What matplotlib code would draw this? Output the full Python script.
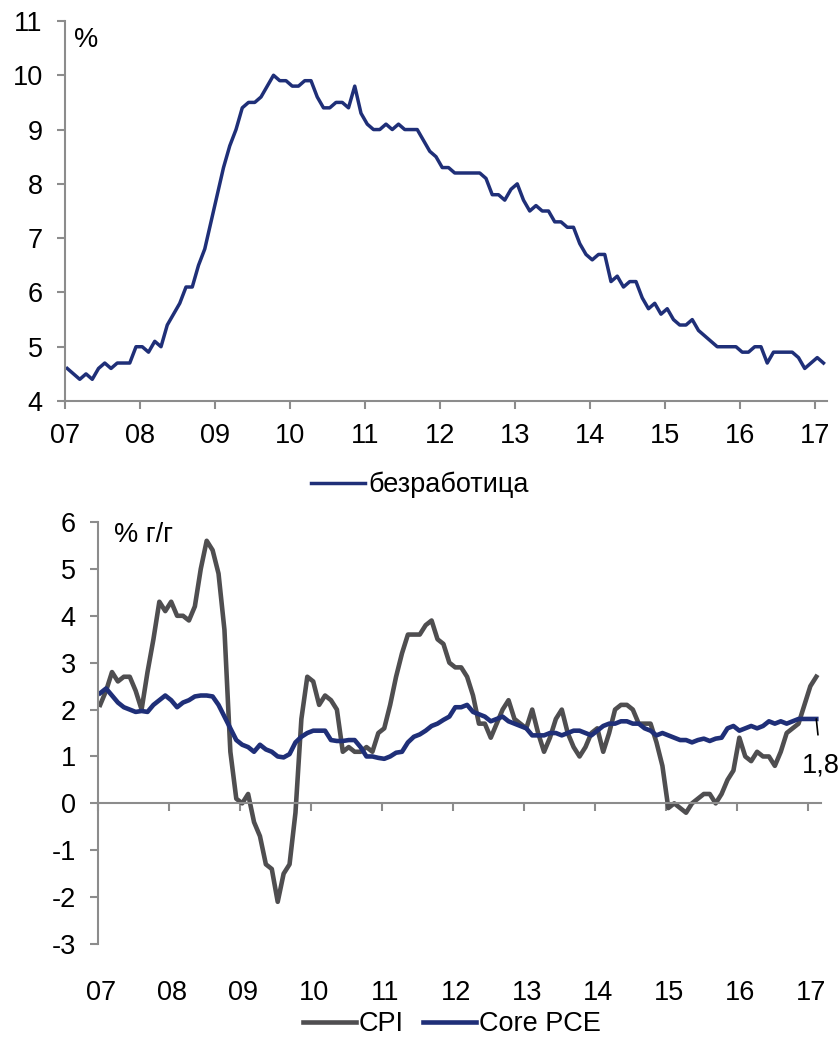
import numpy as np
import matplotlib
matplotlib.use("Agg")
import matplotlib.pyplot as plt
import matplotlib.transforms as mtransforms

plt.rcParams['font.family'] = ['Liberation Sans', 'DejaVu Sans']
plt.rcParams['axes.unicode_minus'] = False

# monthly data, Jan 2007 - Feb 2017
unemployment = [
    4.6, 4.5, 4.4, 4.5, 4.4, 4.6, 4.7, 4.6, 4.7, 4.7, 4.7, 5.0,
    5.0, 4.9, 5.1, 5.0, 5.4, 5.6, 5.8, 6.1, 6.1, 6.5, 6.8, 7.3,
    7.8, 8.3, 8.7, 9.0, 9.4, 9.5, 9.5, 9.6, 9.8, 10.0, 9.9, 9.9,
    9.8, 9.8, 9.9, 9.9, 9.6, 9.4, 9.4, 9.5, 9.5, 9.4, 9.8, 9.3,
    9.1, 9.0, 9.0, 9.1, 9.0, 9.1, 9.0, 9.0, 9.0, 8.8, 8.6, 8.5,
    8.3, 8.3, 8.2, 8.2, 8.2, 8.2, 8.2, 8.1, 7.8, 7.8, 7.7, 7.9,
    8.0, 7.7, 7.5, 7.6, 7.5, 7.5, 7.3, 7.3, 7.2, 7.2, 6.9, 6.7,
    6.6, 6.7, 6.7, 6.2, 6.3, 6.1, 6.2, 6.2, 5.9, 5.7, 5.8, 5.6,
    5.7, 5.5, 5.4, 5.4, 5.5, 5.3, 5.2, 5.1, 5.0, 5.0, 5.0, 5.0,
    4.9, 4.9, 5.0, 5.0, 4.7, 4.9, 4.9, 4.9, 4.9, 4.8, 4.6, 4.7,
    4.8, 4.7,
]

cpi = [
    2.1, 2.4, 2.8, 2.6, 2.7, 2.7, 2.4, 2.0, 2.8, 3.5, 4.3, 4.1,
    4.3, 4.0, 4.0, 3.9, 4.2, 5.0, 5.6, 5.4, 4.9, 3.7, 1.1, 0.1,
    0.0, 0.2, -0.4, -0.7, -1.3, -1.4, -2.1, -1.5, -1.3, -0.2, 1.8, 2.7,
    2.6, 2.1, 2.3, 2.2, 2.0, 1.1, 1.2, 1.1, 1.1, 1.2, 1.1, 1.5,
    1.6, 2.1, 2.7, 3.2, 3.6, 3.6, 3.6, 3.8, 3.9, 3.5, 3.4, 3.0,
    2.9, 2.9, 2.7, 2.3, 1.7, 1.7, 1.4, 1.7, 2.0, 2.2, 1.8, 1.7,
    1.6, 2.0, 1.5, 1.1, 1.4, 1.8, 2.0, 1.5, 1.2, 1.0, 1.2, 1.5,
    1.6, 1.1, 1.5, 2.0, 2.1, 2.1, 2.0, 1.7, 1.7, 1.7, 1.3, 0.8,
    -0.1, 0.0, -0.1, -0.2, 0.0, 0.1, 0.2, 0.2, 0.0, 0.2, 0.5, 0.7,
    1.4, 1.0, 0.9, 1.1, 1.0, 1.0, 0.8, 1.1, 1.5, 1.6, 1.7, 2.1,
    2.5, 2.7,
]

core_pce = [
    2.35, 2.45, 2.3, 2.15, 2.05, 2.0, 1.95, 1.97, 1.95, 2.1, 2.2, 2.3,
    2.2, 2.05, 2.15, 2.2, 2.28, 2.3, 2.3, 2.28, 2.1, 1.85, 1.6, 1.35,
    1.25, 1.2, 1.1, 1.25, 1.15, 1.1, 1.0, 0.98, 1.05, 1.3, 1.42, 1.5,
    1.55, 1.55, 1.55, 1.35, 1.33, 1.33, 1.35, 1.35, 1.2, 1.0, 1.0, 0.97,
    0.95, 1.0, 1.08, 1.1, 1.3, 1.42, 1.47, 1.55, 1.65, 1.7, 1.78, 1.85,
    2.05, 2.05, 2.1, 1.95, 1.9, 1.85, 1.75, 1.8, 1.85, 1.75, 1.7, 1.65,
    1.6, 1.45, 1.45, 1.45, 1.5, 1.5, 1.45, 1.5, 1.55, 1.55, 1.5, 1.45,
    1.55, 1.65, 1.7, 1.7, 1.75, 1.75, 1.7, 1.7, 1.6, 1.55, 1.45, 1.5,
    1.45, 1.4, 1.35, 1.35, 1.3, 1.35, 1.38, 1.33, 1.38, 1.4, 1.6, 1.65,
    1.55, 1.6, 1.65, 1.6, 1.65, 1.75, 1.7, 1.75, 1.7, 1.75, 1.8, 1.8,
    1.8, 1.8,
]

years = list(range(2007, 2018))
year_labels = ['07', '08', '09', '10', '11', '12', '13', '14', '15', '16', '17']

NAVY = '#1f2f78'
GRAY = '#4f4e50'
AXIS = '#8c8c8c'
FS = 19.5

x = 2007 + np.arange(len(unemployment)) / 12 + 0.03

fig = plt.figure(figsize=(8.4, 10.43), dpi=100)

# ---- top panel: unemployment ----
ax1 = fig.add_axes([0.0774, 0.6155, 0.9071, 0.3644])
ax1.plot(x, unemployment, color=NAVY, lw=2.5, label='безработица')
ax1.set_xlim(2007, 2017.16)
ax1.set_ylim(4, 11)
ax1.set_yticks(range(4, 12))
ax1.set_xticks(years)
ax1.set_xticklabels(year_labels)
for s in ['top', 'right']:
    ax1.spines[s].set_visible(False)
for s in ['left', 'bottom']:
    ax1.spines[s].set_color(AXIS)
    ax1.spines[s].set_linewidth(1.5)
ax1.tick_params(axis='both', colors=AXIS, labelcolor='black', labelsize=FS,
                length=6, width=1.5, direction='out')
ax1.tick_params(axis='y', pad=10)
ax1.tick_params(axis='x', pad=10)
ax1.text(0.012, 0.985, '%', transform=ax1.transAxes, fontsize=FS, va='top', ha='left')
fig.legend(handles=ax1.get_lines(), loc='center', bbox_to_anchor=(0.5, 0.535),
           frameon=False, fontsize=FS, handlelength=2.0, handletextpad=0.15)

# ---- bottom panel: CPI and core PCE ----
ax2 = fig.add_axes([0.1167, 0.0949, 0.8607, 0.4046])
l1, = ax2.plot(x, cpi, color=GRAY, lw=3.3, label='CPI')
l2, = ax2.plot(x, core_pce, color=NAVY, lw=3.3, label='Core PCE')
ax2.set_xlim(2007, 2017.18)
ax2.set_ylim(-3, 6)
ax2.set_yticks(range(-3, 7))
ax2.set_xticks(years)
for s in ['top', 'right']:
    ax2.spines[s].set_visible(False)
for s in ['left', 'bottom']:
    ax2.spines[s].set_color(AXIS)
    ax2.spines[s].set_linewidth(1.5)
ax2.spines['bottom'].set_position(('data', 0))
ax2.tick_params(axis='both', colors=AXIS, labelcolor='black', labelsize=FS,
                length=6, width=1.5, direction='out')
ax2.tick_params(axis='y', pad=10)
ax2.tick_params(axis='x', labelbottom=False)
trans = mtransforms.blended_transform_factory(ax2.transData, ax2.transAxes)
for yr, lab in zip(years, year_labels):
    ax2.text(yr + 0.04, -0.116, lab, transform=trans, fontsize=FS, ha='center', va='center')
ax2.text(0.022, 1.0, '% г/г', transform=ax2.transAxes, fontsize=FS, va='top', ha='left')

# end label for core PCE
last_x, last_y = x[-1], core_pce[-1]
ax2.annotate('1,8', xy=(last_x, last_y), xytext=(last_x + 0.07, 0.8),
             fontsize=FS, ha='center', va='center', annotation_clip=False,
             arrowprops=dict(arrowstyle='-', color='black', lw=1.2, shrinkA=11, shrinkB=0))

fig.legend(handles=[l1, l2], loc='center', bbox_to_anchor=(0.538, 0.018),
           ncol=2, frameon=False, fontsize=FS, handlelength=1.95,
           handletextpad=0.12, columnspacing=0.7, borderpad=0.2)

fig.savefig('out.png', dpi=100)
